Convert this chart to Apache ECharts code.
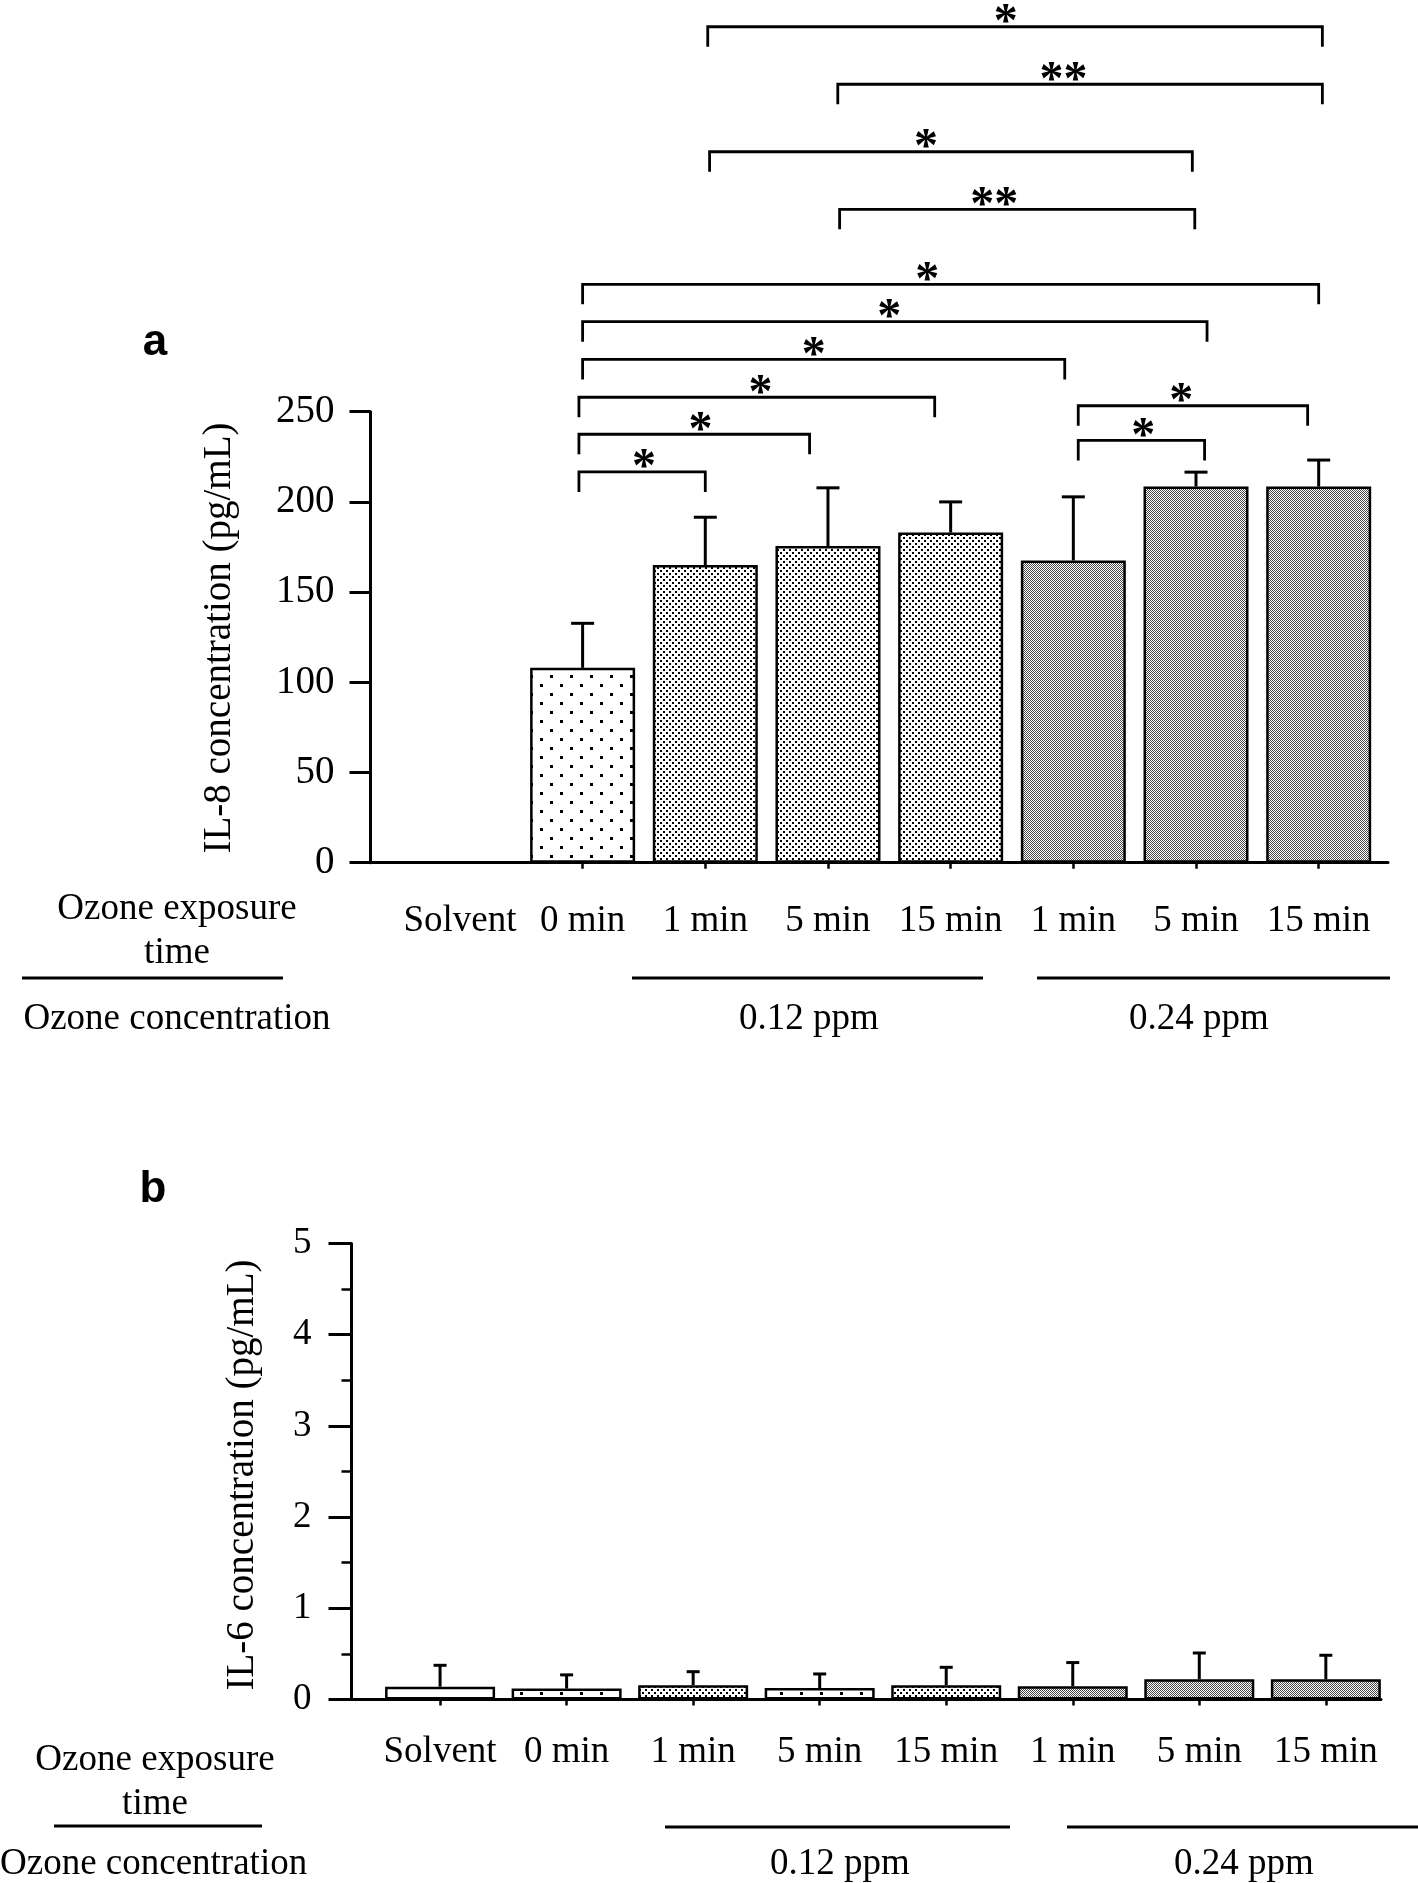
<!DOCTYPE html>
<html><head><meta charset="utf-8">
<script src="https://cdn.jsdelivr.net/npm/echarts@6/dist/echarts.min.js"></script>
<style>html,body{margin:0;padding:0;background:#fff}#c{width:1418px;height:1883px}</style>
</head><body><div id="c"></div>
<script>
// ---------- DATA ----------
const categories = ['Solvent','0 min','1 min','5 min','15 min','1 min','5 min','15 min'];
const il8Mean = [null, 108, 165, 175.5, 183, 167.5, 208.5, 208.5];
const il8SD   = [null, 24.7, 26.5, 32.3, 17, 35.3, 8, 14.7];
const il6Mean = [0.14, 0.12, 0.156, 0.125, 0.156, 0.145, 0.222, 0.222];
const il6SD   = [0.235, 0.15, 0.149, 0.155, 0.197, 0.26, 0.288, 0.263];
const il8Ticks = [0, 50, 100, 150, 200, 250];
const il6Ticks = [0, 1, 2, 3, 4, 5];
// significance brackets for IL-8: [from index, to index, height (pg/mL), label, label position]
const brackets = [
  [2.02, 7.03, 463.4, '*', 4.45],
  [3.08, 7.03, 431.5, '**', 4.92],
  [2.035, 5.97, 394.1, '*', 3.80],
  [3.095, 5.99, 362.2, '**', 4.355],
  [1.0, 7.0, 320.6, '*', 3.81],
  [1.0, 6.09, 299.9, '*', 3.50],
  [1.0, 4.93, 279.0, '*', 2.885],
  [0.97, 3.87, 258.0, '*', 2.45],
  [0.97, 2.85, 237.5, '*', 1.96],
  [0.97, 2.0, 216.6, '*', 1.50],
  [5.04, 6.91, 253.3, '*', 5.88],
  [5.04, 6.07, 234.1, '*', 5.57]
];
const rowTitles = ['Ozone exposure', 'time', 'Ozone concentration'];
const groupLabels = ['0.12 ppm', '0.24 ppm'];
const panelLabels = ['a', 'b'];
const yNames = ['IL-8 concentration (pg/mL)', 'IL-6 concentration (pg/mL)'];
// fill style per bar
const fillA = ['none','sparse','medium','medium','medium','dense','dense','dense'];
const fillB = ['none','sparse','medium','sparse','medium','dense','dense','dense'];

// ---------- STYLE ----------
const SERIF = "'Liberation Serif','Times New Roman',serif";
const SANS = "'Liberation Sans',Arial,sans-serif";
function makePattern(kind){
  if (kind === 'none') return '#ffffff';
  const c = document.createElement('canvas');
  let w, h, dots, col = '#000', s;
  if (kind === 'sparse'){ w = 20; h = 18; s = 3; dots = [[0,0],[10,9]]; }
  else if (kind === 'medium'){ w = 6; h = 6; s = 2; dots = [[0,0],[3,3]]; }
  else { w = 2; h = 2; s = 1; dots = [[0,0],[1,1]]; col = '#4a4a4a'; }
  c.width = w; c.height = h;
  const ctx = c.getContext('2d');
  ctx.fillStyle = '#fff'; ctx.fillRect(0,0,w,h);
  ctx.fillStyle = col;
  dots.forEach(d => ctx.fillRect(d[0], d[1], s, s));
  return { image: c, repeat: 'repeat' };
}

const chart = echarts.init(document.getElementById('c'), null, {renderer: 'canvas'});

function barData(means, fills){
  const out = [];
  means.forEach((v, i) => { if (v != null) out.push({ value: [i, v], itemStyle: { color: makePattern(fills[i]) } }); });
  return out;
}
function errData(means, sds){
  const out = [];
  means.forEach((v, i) => { if (v != null) out.push([i, v, v + sds[i]]); });
  return out;
}
function errRender(cap){
  return function(params, api){
    const x = api.value(0);
    const p0 = api.coord([x, api.value(1)]);
    const p1 = api.coord([x, api.value(2)]);
    const st = { stroke: '#000', lineWidth: 3 };
    return { type: 'group', children: [
      { type: 'line', shape: { x1: p0[0], y1: p0[1], x2: p1[0], y2: p1[1] }, style: st },
      { type: 'line', shape: { x1: p1[0] - cap/2, y1: p1[1], x2: p1[0] + cap/2, y2: p1[1] }, style: st }
    ]};
  };
}

const idxA = il8Mean.map((v,i)=>v==null?null:i).filter(v=>v!=null);
const idxB = il6Mean.map((v,i)=>i);

const axisLineStyle = { color: '#000', width: 3 };

function gtext(text, x, y, size, opts){
  return Object.assign({ type: 'text', x: x, y: y, silent: true,
    style: Object.assign({ text: text, fill: '#000', fontFamily: SERIF, fontSize: size, align: 'center', verticalAlign: 'middle' }, opts && opts.style || {}) },
    opts && opts.el || {});
}
function gline(x1, y1, x2, y2){
  return { type: 'line', silent: true, shape: { x1, y1, x2, y2 }, style: { stroke: '#000', lineWidth: 3 } };
}

const option = {
  backgroundColor: '#fff',
  animation: false,
  grid: [
    { left: 370.5, top: 411.7, width: 1017.5, height: 451 },
    { left: 351.5, top: 1243.5, width: 1029.5, height: 456 }
  ],
  xAxis: [
    { gridIndex: 0, type: 'value', min: -0.729, max: 7.565, splitLine: { show: false },
      axisLine: { show: true, onZero: false, lineStyle: axisLineStyle },
      axisTick: { show: true, customValues: idxA, length: 6, inside: false, lineStyle: { color: '#000', width: 2.5 } },
      axisLabel: { customValues: categories.map((c,i)=>i), formatter: v => categories[Math.round(v)], margin: 40,
        color: '#000', fontFamily: SERIF, fontSize: 37 } },
    { gridIndex: 1, type: 'value', min: -0.70, max: 7.436, splitLine: { show: false },
      axisLine: { show: true, onZero: false, lineStyle: axisLineStyle },
      axisTick: { show: true, customValues: idxB, length: 6, inside: false, lineStyle: { color: '#000', width: 2.5 } },
      axisLabel: { customValues: idxB, formatter: v => categories[Math.round(v)], margin: 34,
        color: '#000', fontFamily: SERIF, fontSize: 37 } }
  ],
  yAxis: [
    { gridIndex: 0, type: 'value', min: il8Ticks[0], max: il8Ticks[il8Ticks.length-1], interval: il8Ticks[1]-il8Ticks[0],
      splitLine: { show: false },
      axisLine: { show: true, onZero: false, lineStyle: axisLineStyle },
      axisTick: { show: true, length: 21, lineStyle: { color: '#000', width: 3 } },
      axisLabel: { margin: 36, color: '#000', fontFamily: SERIF, fontSize: 39 } },
    { gridIndex: 1, type: 'value', min: il6Ticks[0], max: il6Ticks[il6Ticks.length-1], interval: il6Ticks[1]-il6Ticks[0],
      splitLine: { show: false },
      axisLine: { show: true, onZero: false, lineStyle: axisLineStyle },
      axisTick: { show: true, length: 23, lineStyle: { color: '#000', width: 3 } },
      minorTick: { show: true, splitNumber: 2, length: 10, lineStyle: { color: '#000', width: 2.5 } },
      axisLabel: { margin: 40, color: '#000', fontFamily: SERIF, fontSize: 37 } }
  ],
  series: [
    { type: 'bar', xAxisIndex: 0, yAxisIndex: 0, barWidth: 105, data: barData(il8Mean, fillA),
      itemStyle: { borderColor: '#000', borderWidth: 2.5 }, z: 2 },
    { type: 'custom', xAxisIndex: 0, yAxisIndex: 0, data: errData(il8Mean, il8SD), encode: { x: 0, y: [1, 2] },
      renderItem: errRender(23), z: 3 },
    { type: 'custom', xAxisIndex: 0, yAxisIndex: 0, clip: false, data: brackets.map(b => [b[0], b[1], b[2], b[4]]),
      encode: { x: [0, 1, 3], y: 2 }, z: 4,
      renderItem: function(params, api){
        const y = api.value(2);
        const p1 = api.coord([api.value(0), y]);
        const p2 = api.coord([api.value(1), y]);
        const ps = api.coord([api.value(3), y]);
        const drop = 20;
        return { type: 'group', children: [
          { type: 'polyline', shape: { points: [[p1[0], p1[1] + drop], [p1[0], p1[1]], [p2[0], p2[1]], [p2[0], p2[1] + drop]] },
            style: { stroke: '#000', lineWidth: 2.8, fill: null } },
          { type: 'text', x: ps[0], y: ps[1] - 3,
            style: { text: brackets[params.dataIndex][3], fill: '#000', fontFamily: SERIF, fontWeight: 'bold', fontSize: 48, align: 'center', verticalAlign: 'middle' } }
        ]};
      } },
    { type: 'bar', xAxisIndex: 1, yAxisIndex: 1, barWidth: 110, data: barData(il6Mean, fillB),
      itemStyle: { borderColor: '#000', borderWidth: 2.5 }, z: 2 },
    { type: 'custom', xAxisIndex: 1, yAxisIndex: 1, data: errData(il6Mean, il6SD), encode: { x: 0, y: [1, 2] },
      renderItem: errRender(13), z: 3 }
  ],
  graphic: [
    gtext(panelLabels[0], 155, 343, 44, { style: { fontFamily: SANS, fontWeight: 'bold' } }),
    gtext(yNames[0], 220, 638, 39, { el: { rotation: Math.PI / 2 } }),
    gtext(rowTitles[0], 177, 909, 37),
    gtext(rowTitles[1], 177, 953, 37),
    gline(22, 978, 283, 978),
    gline(632, 978, 983, 978),
    gline(1037, 978, 1390, 978),
    gtext(rowTitles[2], 177, 1019, 37),
    gtext(groupLabels[0], 809, 1019, 37),
    gtext(groupLabels[1], 1199, 1019, 37),

    gtext(panelLabels[1], 153, 1190, 44, { style: { fontFamily: SANS, fontWeight: 'bold' } }),
    gtext(yNames[1], 243, 1475, 39, { el: { rotation: Math.PI / 2 } }),
    gtext(rowTitles[0], 155, 1760, 37),
    gtext(rowTitles[1], 155, 1804, 37),
    gline(54, 1826, 262, 1826),
    gline(665, 1827, 1010, 1827),
    gline(1067, 1827, 1418, 1827),
    gtext(rowTitles[2], 0, 1864, 37, { style: { align: 'left' } }),
    gtext(groupLabels[0], 840, 1864, 37),
    gtext(groupLabels[1], 1244, 1864, 37)
  ]
};
chart.setOption(option);
</script></body></html>
